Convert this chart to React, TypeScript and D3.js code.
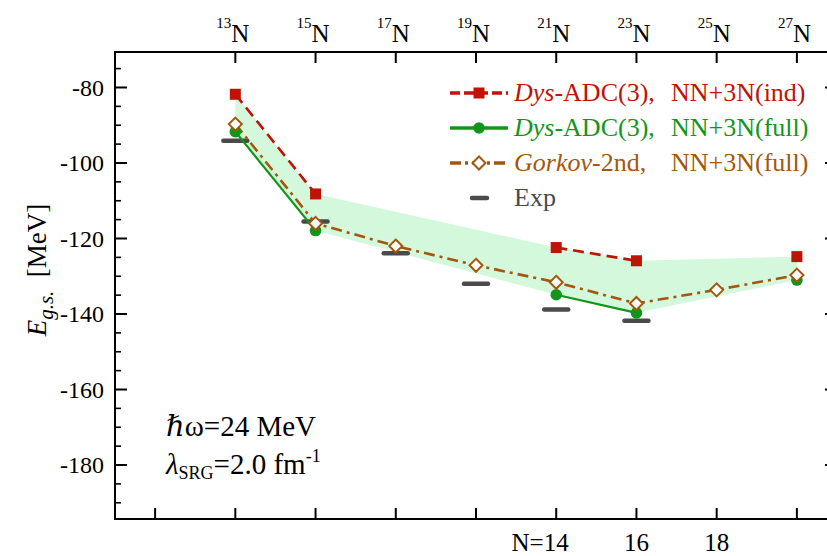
import React from "react";
import * as d3 from "d3";

const isotopeMass = ["13", "15", "17", "19", "21", "23", "25", "27"];
const neutronN = [6, 8, 10, 12, 14, 16, 18, 20];
const bottomTickN = [4, 6, 8, 10, 12, 14, 16, 18, 20];
const bottomLabels = [
  { n: 14, label: "14", prefix: "N=" },
  { n: 16, label: "16", prefix: "" },
  { n: 18, label: "18", prefix: "" },
];
const dysInd: (number | null)[] = [-81.8, -108.2, null, null, -122.4, -125.9, null, -124.8];
const dysFull: (number | null)[] = [-91.7, -117.9, null, null, -134.9, -139.7, null, -131.0];
const gorkov: (number | null)[] = [-89.7, -116.0, -122.0, -127.1, -131.6, -137.2, -133.6, -129.7];
const expE: (number | null)[] = [-94.1, -115.5, -123.9, -132.0, -138.8, -141.8, null, null];
const yMajorTicks = [-80, -100, -120, -140, -160, -180];
const yMinorTicks = [-75, -85, -90, -95, -105, -110, -115, -125, -130, -135, -145, -150, -155, -165, -170, -175, -185, -190];

const W = 827;
const H = 556;
const FONT = "'Liberation Serif', 'Times New Roman', 'DejaVu Serif', serif";
const RED = "#c01205";
const GREEN = "#12961a";
const BROWN = "#a3570c";
const EXPC = "#4a4a4a";
const BAND = "#d3f8dc";

const x = d3.scaleLinear().domain([3, 21]).range([115, 837]);
const y = d3.scaleLinear().domain([-194.3, -70.6]).range([519, 52]);

type Pt = { n: number; v: number | null };
const pts = (arr: (number | null)[]): Pt[] => neutronN.map((n, i) => ({ n, v: arr[i] }));

const lineGen = d3
  .line<Pt>()
  .defined((d) => d.v != null)
  .x((d) => x(d.n))
  .y((d) => y(d.v as number));

const bandData = neutronN
  .map((n, i) => ({ n, lo: dysFull[i], hi: dysInd[i] }))
  .filter((d) => d.lo != null && d.hi != null);
const areaGen = d3
  .area<{ n: number; lo: number | null; hi: number | null }>()
  .x((d) => x(d.n))
  .y0((d) => y(d.lo as number))
  .y1((d) => y(d.hi as number));

const Square = ({ cx, cy }: { cx: number; cy: number }) => (
  <rect x={cx - 5.5} y={cy - 5.5} width={11} height={11} fill={RED} />
);
const Circle = ({ cx, cy }: { cx: number; cy: number }) => (
  <circle cx={cx} cy={cy} r={5.8} fill={GREEN} />
);
const Diamond = ({ cx, cy }: { cx: number; cy: number }) => (
  <path
    d={`M${cx},${cy - 6.5}L${cx + 6.5},${cy}L${cx},${cy + 6.5}L${cx - 6.5},${cy}Z`}
    fill="#fff"
    stroke={BROWN}
    strokeWidth={2}
  />
);

export default function App() {
  const legendRows = [93, 128, 163, 198];
  const lx0 = 450;
  const lx1 = 508;
  const lmid = 479;
  const ltext = 514;
  const lNN = 671;
  const lfs = 26;
  return (
    <svg
      width={W}
      height={H}
      style={{ position: "absolute", left: 0, top: 0, background: "#fff" }}
      fontFamily={FONT}
    >
      <rect x={0} y={0} width={W} height={H} fill="#fff" />
      {/* band */}
      <path d={areaGen(bandData) || ""} fill={BAND} stroke="none" />

      {/* exp bars */}
      {neutronN.map((n, i) =>
        expE[i] == null ? null : (
          <line
            key={"e" + i}
            x1={x(n) - 12}
            x2={x(n) + 12}
            y1={y(expE[i] as number)}
            y2={y(expE[i] as number)}
            stroke={EXPC}
            strokeWidth={4.5}
            strokeLinecap="round"
          />
        )
      )}

      {/* lines */}
      <path d={lineGen(pts(dysInd)) || ""} fill="none" stroke={RED} strokeWidth={2.6} strokeDasharray="11,6" />
      <path d={lineGen(pts(dysFull)) || ""} fill="none" stroke={GREEN} strokeWidth={2.2} />
      <path d={lineGen(pts(gorkov)) || ""} fill="none" stroke={BROWN} strokeWidth={2.6} strokeDasharray="11,5,3,5" />

      {/* markers */}
      {neutronN.map((n, i) => (dysInd[i] == null ? null : <Square key={"s" + i} cx={x(n)} cy={y(dysInd[i] as number)} />))}
      {neutronN.map((n, i) => (dysFull[i] == null ? null : <Circle key={"c" + i} cx={x(n)} cy={y(dysFull[i] as number)} />))}
      {neutronN.map((n, i) => (gorkov[i] == null ? null : <Diamond key={"d" + i} cx={x(n)} cy={y(gorkov[i] as number)} />))}

      {/* frame */}
      <rect x={115} y={52} width={837 - 115} height={519 - 52} fill="none" stroke="#000" strokeWidth={2} />

      {/* y ticks */}
      {yMajorTicks.map((t) => (
        <g key={"ym" + t}>
          <line x1={115} x2={127} y1={y(t)} y2={y(t)} stroke="#000" strokeWidth={2} />
          <line x1={837} x2={825} y1={y(t)} y2={y(t)} stroke="#000" strokeWidth={2} />
          <text x={104} y={y(t)} dy="0.35em" textAnchor="end" fontSize={24} fill="#000">
            {t}
          </text>
        </g>
      ))}
      {yMinorTicks.map((t) => (
        <g key={"yn" + t}>
          <line x1={115} x2={121} y1={y(t)} y2={y(t)} stroke="#000" strokeWidth={1.6} />
          <line x1={837} x2={831} y1={y(t)} y2={y(t)} stroke="#000" strokeWidth={1.6} />
        </g>
      ))}

      {/* bottom ticks */}
      {bottomTickN.map((n) => (
        <line key={"bt" + n} x1={x(n)} x2={x(n)} y1={519} y2={508} stroke="#000" strokeWidth={2} />
      ))}
      {bottomLabels.map((b) => (
        <text key={"bl" + b.n} x={x(b.n) + 12.5} y={551} textAnchor="end" fontSize={25} fill="#000">
          {b.prefix + b.label}
        </text>
      ))}

      {/* top ticks and isotope labels */}
      {neutronN.map((n, i) => (
        <g key={"tt" + n}>
          <line x1={x(n)} x2={x(n)} y1={52} y2={63} stroke="#000" strokeWidth={2} />
          <text x={x(n) - 4} y={28} textAnchor="end" fontSize={15} fill="#000">
            {isotopeMass[i]}
          </text>
          <text x={x(n) - 4} y={42} textAnchor="start" fontSize={25} fill="#000">
            N
          </text>
        </g>
      ))}

      {/* y axis title */}
      <text transform="translate(46,270) rotate(-90)" textAnchor="middle" fontSize={27} fill="#000">
        <tspan fontStyle="italic">E</tspan>
        <tspan fontStyle="italic" fontSize={21} dy={7}>
          g.s.
        </tspan>
        <tspan dy={-7}>{"\u00a0\u00a0[MeV]"}</tspan>
      </text>

      {/* annotations */}
      <text x={166} y={436} fontSize={29} fill="#000">
        <tspan fontStyle="italic">ℏ</tspan>
        <tspan>ω=24 MeV</tspan>
      </text>
      <text x={166} y={474} fontSize={29} fill="#000">
        <tspan fontStyle="italic">λ</tspan>
        <tspan fontSize={18} dy={5}>
          SRG
        </tspan>
        <tspan dy={-5}>=2.0 fm</tspan>
        <tspan fontSize={18} dy={-12}>
          -1
        </tspan>
      </text>

      {/* legend */}
      <g>
        <line x1={lx0} x2={lx1} y1={legendRows[0]} y2={legendRows[0]} stroke={RED} strokeWidth={3.5} strokeDasharray="10,4" />
        <Square cx={lmid} cy={legendRows[0]} />
        <text x={ltext} y={legendRows[0] + 8} fontSize={lfs} fill={RED}>
          <tspan fontStyle="italic">Dys</tspan>
          <tspan>-ADC(3),</tspan>
          <tspan x={lNN}>NN+3N(ind)</tspan>
        </text>

        <line x1={lx0} x2={lx1} y1={legendRows[1]} y2={legendRows[1]} stroke={GREEN} strokeWidth={3.5} />
        <Circle cx={lmid} cy={legendRows[1]} />
        <text x={ltext} y={legendRows[1] + 8} fontSize={lfs} fill={GREEN}>
          <tspan fontStyle="italic">Dys</tspan>
          <tspan>-ADC(3),</tspan>
          <tspan x={lNN}>NN+3N(full)</tspan>
        </text>

        <line x1={lx0} x2={lx1} y1={legendRows[2]} y2={legendRows[2]} stroke={BROWN} strokeWidth={3.5} strokeDasharray="11,4,3,4" />
        <Diamond cx={lmid} cy={legendRows[2]} />
        <text x={ltext} y={legendRows[2] + 8} fontSize={lfs} fill={BROWN}>
          <tspan fontStyle="italic">Gorkov</tspan>
          <tspan>-2nd,</tspan>
          <tspan x={lNN}>NN+3N(full)</tspan>
        </text>

        <line x1={472} x2={487} y1={legendRows[3]} y2={legendRows[3]} stroke={EXPC} strokeWidth={4.5} strokeLinecap="round" />
        <text x={ltext} y={legendRows[3] + 8} fontSize={lfs} fill={EXPC}>
          Exp
        </text>
      </g>
    </svg>
  );
}
